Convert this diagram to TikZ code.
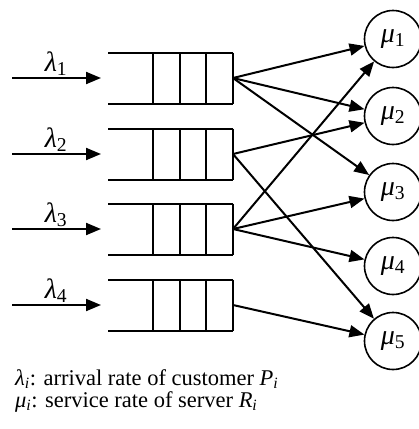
\documentclass[tikz,border=0pt]{standalone}
\usepackage{fontspec}
\setmainfont{Liberation Serif}
\usetikzlibrary{arrows.meta}
\begin{document}
\begin{tikzpicture}[x=1pt,y=-1pt,
  ln/.style={line width=2pt},
  arr/.style={ln,-{Triangle[length=15pt,width=12pt]}},
  srv/.style={circle,draw,line width=1.6pt,minimum size=57pt,inner sep=0pt,font=\fontsize{28}{28}\selectfont},
  lbl/.style={font=\fontsize{28}{28}\selectfont,inner sep=0pt,anchor=base},
  note/.style={anchor=base west,inner sep=0pt,font=\fontsize{22.5}{22}\selectfont}
]
\useasboundingbox (0,0) rectangle (419,429);
% queues and arrivals
\foreach \i/\y in {1/78,2/154,3/229,4/305}{
  \draw[ln] (108,\y-25.5) -- (233,\y-25.5) (108,\y+25.5) -- (233,\y+25.5);
  \foreach \x in {153,180,206,233} \draw[ln] (\x,\y-25.5) -- (\x,\y+25.5);
  \coordinate (q\i) at (233,\y);
  \coordinate (s\i) at (12,\y);
  \coordinate (e\i) at (101,\y);
  \draw[arr] (s\i) -- (e\i);
  \node[lbl] (l\i) at (56,\y-7) {\textit{λ}\textsubscript{\i}};
}
% servers
\foreach \i/\y in {1/39,2/116,3/192,4/266,5/341}{
  \node[srv] (m\i) at (393,\y) {\textit{μ}\textsubscript{\i}};
}
% routing
\draw[arr] (q1) -- (m1);
\draw[arr] (q1) -- (m2);
\draw[arr] (q1) -- (m3);
\draw[arr] (q2) -- (m2);
\draw[arr] (q2) -- (m5);
\draw[arr] (q3) -- (m1);
\draw[arr] (q3) -- (m3);
\draw[arr] (q3) -- (m4);
\draw[arr] (q4) -- (m5);
% legend
\node[note] (t1) at (15,385) {\textit{λ}\textsubscript{\textit{i}}: arrival rate of customer \textit{P}\textsubscript{\textit{i}}};
\node[note] (t2) at (15,407) {\textit{μ}\textsubscript{\textit{i}}: service rate of server \textit{R}\textsubscript{\textit{i}}};
\end{tikzpicture}
\end{document}
